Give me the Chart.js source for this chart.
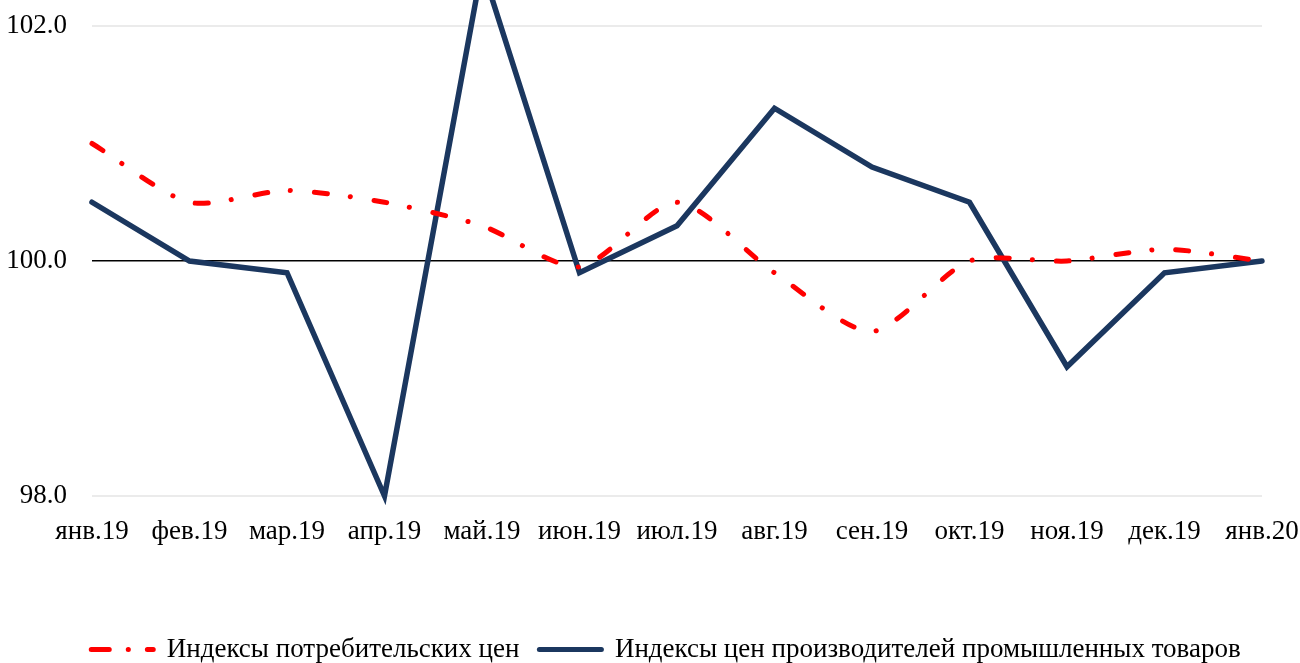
<!DOCTYPE html>
<html>
<head>
  <title>Индексы цен</title>
  <script src="https://cdn.jsdelivr.net/npm/chart.js"></script>
  <style>
    html, body { margin: 0; padding: 0; background: #fff; overflow: hidden; }
    #wrap { width: 1300px; height: 663px; }
  </style>
</head>
<body>
  <div id="wrap"><canvas id="myChart"></canvas></div>

  <script>
    const months = ['янв.19', 'фев.19', 'мар.19', 'апр.19', 'май.19', 'июн.19', 'июл.19',
                    'авг.19', 'сен.19', 'окт.19', 'ноя.19', 'дек.19', 'янв.20'];
    const cpi = [101.0, 100.5, 100.6, 100.5, 100.3, 99.95, 100.5, 99.9, 99.4, 100.0, 100.0, 100.1, 100.0];
    const ppi = [100.5, 100.0, 99.9, 98.0, 102.5, 99.9, 100.3, 101.3, 100.8, 100.5, 99.1, 99.9, 100.0];
    const cpiLabel = 'Индексы потребительских цен';
    const ppiLabel = 'Индексы цен производителей промышленных товаров';
    const yTicks = [98, 100, 102];

    const font = { family: "'Liberation Serif', 'Times New Roman', serif", size: 27 };

    // legend in the original sits a bit right of the page centre
    const legendShift = {
      id: 'legendShift',
      afterLayout(chart) {
        chart.legend.left += 16;
        chart.legend.right += 16;
      }
    };

    const ctx = document.getElementById('myChart').getContext('2d');
    const chart = new Chart(ctx, {
      type: 'line',
      data: {
        labels: months,
        datasets: [{
          label: cpiLabel,
          data: cpi,
          borderColor: '#ff0000',
          backgroundColor: '#ff0000',
          borderWidth: 5,
          borderDash: [13, 23, 0.1, 24],
          borderCapStyle: 'round',
          tension: 0.25,
          pointRadius: 0,
          clip: false
        }, {
          label: ppiLabel,
          data: ppi,
          borderColor: '#1b375f',
          backgroundColor: '#1b375f',
          borderWidth: 5.5,
          borderCapStyle: 'round',
          borderJoinStyle: 'miter',
          tension: 0,
          pointRadius: 0,
          clip: false
        }]
      },
      options: {
        responsive: true,
        maintainAspectRatio: false,
        animation: false,
        layout: { padding: { top: 26, left: 0, right: 0, bottom: -10 } },
        plugins: {
          tooltip: { enabled: false },
          legend: {
            position: 'bottom',
            labels: {
              color: '#000',
              font: font,
              usePointStyle: true,
              pointStyle: 'line',
              pointStyleWidth: 62,
              padding: 20,
              generateLabels: function (chart) {
                const items = Chart.defaults.plugins.legend.labels.generateLabels(chart);
                items.forEach((item, i) => {
                  const ds = chart.data.datasets[i];
                  item.lineDash = ds.borderDash ? [18, 19, 0.1, 19] : [];
                  item.lineCap = 'round';
                  item.lineWidth = 5;
                  item.strokeStyle = ds.borderColor;
                });
                return items;
              }
            }
          }
        },
        scales: {
          x: {
            grid: { display: false, drawTicks: false },
            border: { display: false },
            ticks: { color: '#000', font: font, padding: 20, maxRotation: 0, autoSkip: false },
            afterFit: function (s) {
              s.height = 120;
              s.paddingLeft = 0;
              s.paddingRight = 38;
            }
          },
          y: {
            min: 98,
            max: 102,
            afterBuildTicks: function (s) { s.ticks = yTicks.map(v => ({ value: v })); },
            grid: {
              drawTicks: false,
              color: c => c.tick && c.tick.value === 100 ? '#000' : '#ebebeb',
              lineWidth: c => c.tick && c.tick.value === 100 ? 1.5 : 2
            },
            border: { display: false },
            ticks: {
              color: '#000',
              font: font,
              padding: 25,
              callback: v => v.toFixed(1)
            },
            afterFit: function (s) {
              s.width = 92;
              s.paddingTop = 0;
              s.paddingBottom = 0;
            }
          }
        }
      },
      plugins: [legendShift]
    });
  </script>
</body>
</html>
